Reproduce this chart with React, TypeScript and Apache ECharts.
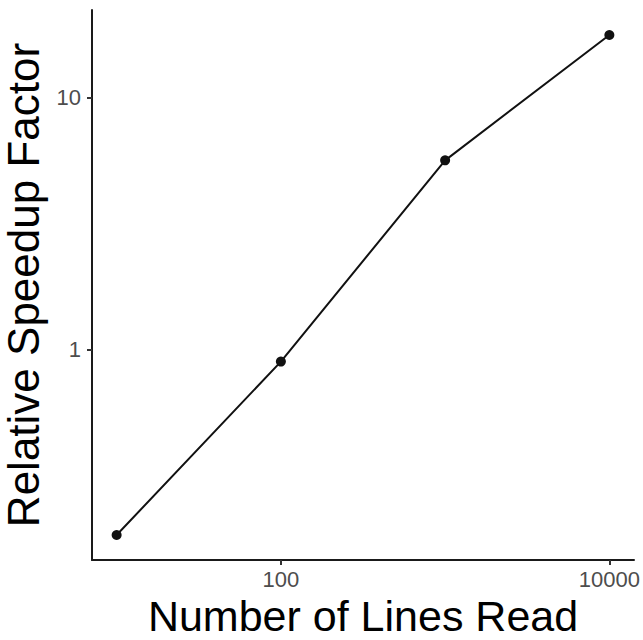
import React, { useEffect, useRef } from "react";
import * as echarts from "echarts";

const linesRead = [10, 100, 1000, 10000];
const speedup = [0.183, 0.895, 5.65, 17.8];
const xTickValues = [100, 10000];
const yTickValues = [1, 10];

export default function App() {
  const ref = useRef<HTMLDivElement>(null);
  useEffect(() => {
    if (!ref.current) return;
    const chart = echarts.init(ref.current, null, { renderer: "svg" });
    const font = "Liberation Sans, Arial, sans-serif";
    chart.setOption({
      animation: false,
      backgroundColor: "#ffffff",
      grid: { left: 92, right: 9, top: 10, bottom: 80, containLabel: false, outerBoundsMode: "none" },
      xAxis: {
        type: "log",
        logBase: 10,
        min: Math.pow(10, 0.85),
        max: Math.pow(10, 4.15),
        name: "Number of Lines Read",
        nameLocation: "middle",
        nameGap: 38,
        nameTextStyle: { fontSize: 43, lineHeight: 36, color: "#000000", fontFamily: font },
        axisLine: { show: true, lineStyle: { color: "#1a1a1a", width: 2 } },
        axisTick: { show: true, length: 5, customValues: xTickValues, lineStyle: { color: "#333333", width: 2 } },
        axisLabel: {
          customValues: xTickValues,
          fontSize: 22,
          color: "#4d4d4d",
          fontFamily: font,
          margin: 8,
          formatter: (v: number) => String(Math.round(v)),
        },
        splitLine: { show: false },
        minorTick: { show: false },
      },
      yAxis: {
        type: "log",
        logBase: 10,
        min: Math.pow(10, -0.8369),
        max: Math.pow(10, 1.3498),
        name: "Relative Speedup Factor",
        nameLocation: "middle",
        nameRotate: 90,
        nameGap: 41,
        nameTextStyle: { fontSize: 44, color: "#000000", fontFamily: font },
        axisLine: { show: true, lineStyle: { color: "#1a1a1a", width: 2 } },
        axisTick: { show: true, length: 5, customValues: yTickValues, lineStyle: { color: "#333333", width: 2 } },
        axisLabel: {
          customValues: yTickValues,
          fontSize: 22,
          color: "#4d4d4d",
          fontFamily: font,
          margin: 11,
          formatter: (v: number) => String(Math.round(v)),
        },
        splitLine: { show: false },
        minorTick: { show: false },
      },
      series: [
        {
          type: "line",
          data: linesRead.map((x, i) => [x, speedup[i]]),
          symbol: "circle",
          symbolSize: 10,
          itemStyle: { color: "#111111" },
          lineStyle: { color: "#111111", width: 2 },
        },
      ],
    });
    return () => chart.dispose();
  }, []);
  return (
    <div
      ref={ref}
      style={{ position: "fixed", left: 0, top: 0, width: 643, height: 640 }}
    />
  );
}
